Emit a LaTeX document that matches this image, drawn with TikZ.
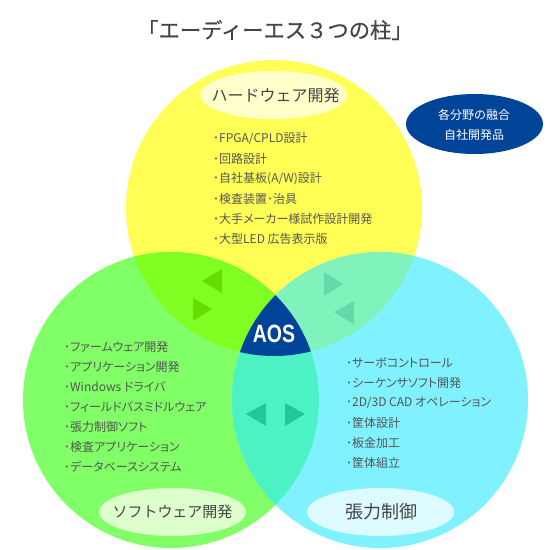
\documentclass[tikz,border=0pt]{standalone}
\usepackage{fontspec}
\setmainfont{Noto Sans CJK JP}
\newfontfamily\itemfont[RawFeature={+palt}]{Noto Sans CJK JP}
\newfontfamily\titlefont[FakeBold=0.4]{Noto Sans CJK JP}
\newfontfamily\logofont{Liberation Sans}
\usetikzlibrary{shapes.geometric}
\definecolor{cy}{HTML}{FFFF55}
\definecolor{cg}{HTML}{80FF66}
\definecolor{cc}{HTML}{80F2FF}
\definecolor{cyg}{HTML}{80FF22}
\definecolor{cyc}{HTML}{80F2BB}
\definecolor{cgc}{HTML}{4DF2C4}
\definecolor{cdk}{HTML}{004499}
\definecolor{ty}{HTML}{66DD00}
\definecolor{tc}{HTML}{66D8AA}
\definecolor{tb}{HTML}{22C898}
\definecolor{txt}{HTML}{555555}
\definecolor{ttl}{HTML}{444444}
\definecolor{ely}{HTML}{FFFFCC}
\definecolor{elg}{HTML}{DDFFCC}
\definecolor{elc}{HTML}{DDFBFF}
\tikzset{
 item/.style={anchor=west,inner sep=0pt,text=txt,font=\itemfont\fontsize{12}{12}\selectfont},
 lab/.style={inner sep=0pt,text=ttl},
 whitetext/.style={inner sep=0pt,text=white,font=\fontsize{12}{12}\selectfont},
 oval/.style={ellipse,inner sep=0pt,outer sep=0pt,draw=none,minimum width=147pt,minimum height=48pt},
}
\begin{document}
\begin{tikzpicture}[x=1pt,y=-1pt]
\useasboundingbox (0,0) rectangle (550,550);
\fill[white] (0,0) rectangle (550,550);
\def\Y{(274,208) circle[radius=148pt]}
\def\G{(171,400) circle[radius=148pt]}
\def\C{(380,400) circle[radius=148pt]}
\fill[cy] \Y; \fill[cg] \G; \fill[cc] \C;
\begin{scope}\clip \Y; \fill[cyg] \G; \fill[cyc] \C;\end{scope}
\begin{scope}\clip \G; \fill[cgc] \C;\end{scope}
\begin{scope}\clip \Y; \clip \G; \fill[cdk] \C;\end{scope}
% triangles
\fill[ty] (202,281) -- (222,269) -- (222,293) -- cycle;
\fill[ty] (212,309) -- (193,298) -- (193,321) -- cycle;
\fill[tc] (343,284) -- (324,272) -- (324,296) -- cycle;
\fill[tc] (334,312) -- (354,301) -- (354,324) -- cycle;
\fill[tb] (246,414) -- (266,403) -- (266,426) -- cycle;
\fill[tb] (305,414) -- (285,403) -- (285,426) -- cycle;
% ovals
\node[oval,fill=ely] (ovh) at (273.5,95) {};
\node[oval,fill=elg] (ovs) at (172.5,512) {};
\node[oval,fill=elc] (ovt) at (380.5,512) {};
\node[oval,fill=cdk,minimum width=137pt,minimum height=60pt] (ovb) at (474.5,124) {};
% labels
\node[lab,font=\titlefont\fontsize{21.3}{22}\selectfont] (title) at (275,30) {「エーディーエス^^^^ff13つの柱」};
\node[lab,font=\fontsize{16}{16}\selectfont] (lh) at (275.5,95) {ハードウェア開発};
\node[lab,font=\fontsize{15}{15}\selectfont] (ls) at (172.5,512) {ソフトウェア開発};
\node[lab,font=\fontsize{18}{18}\selectfont] (lt) at (381,512) {張力制御};
\node[whitetext] (b1) at (474,115) {各分野の融合};
\node[whitetext] (b2) at (474,135) {自社開発品};
\node[inner sep=0pt,text=white,font=\logofont\bfseries\fontsize{25}{25}\selectfont,xscale=.78] (logo) at (274,333.5) {AOS};
% hardware
\node[item] (h1) at (213,138.5) {･FPGA/CPLD設計};
\node[item] (h2) at (213,158.5) {･回路設計};
\node[item] (h3) at (213,178.5) {･自社基板(A/W)設計};
\node[item] (h4) at (213,198.5) {･検査装置･治具};
\node[item] (h5) at (213,218.5) {･大手メーカー様試作設計開発};
\node[item] (h6) at (213,238.5) {･大型LED 広告表示版};
% software
\node[item] (s1) at (64,347) {･ファームウェア開発};
\node[item] (s2) at (64,367) {･アプリケーション開発};
\node[item] (s3) at (64,387) {･Windows ドライバ};
\node[item] (s4) at (64,407) {･フィールドバスミドルウェア};
\node[item] (s5) at (64,427) {･張力制御ソフト};
\node[item] (s6) at (64,447) {･検査アプリケーション};
\node[item] (s7) at (64,467) {･データベースシステム};
% tension
\node[item] (t1) at (346,363) {･サーボコントロール};
\node[item] (t2) at (346,383) {･シーケンサソフト開発};
\node[item] (t3) at (346,403) {･2D/3D CAD オペレーション};
\node[item] (t4) at (346,423) {･筐体設計};
\node[item] (t5) at (346,443) {･板金加工};
\node[item] (t6) at (346,463) {･筐体組立};
\end{tikzpicture}
\end{document}
